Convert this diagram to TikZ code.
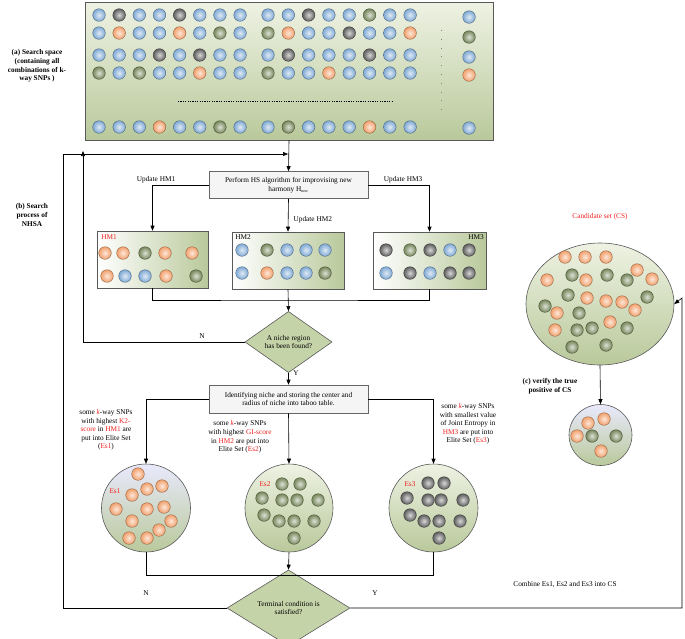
\documentclass[tikz,border=0pt]{standalone}
\usepackage{fontspec}
\setmainfont{Liberation Serif}
\usetikzlibrary{shapes.geometric,arrows.meta}
\definecolor{cb}{HTML}{7FA9D4}
\definecolor{co}{HTML}{F2A06C}
\definecolor{cg}{HTML}{75865A}
\definecolor{ck}{HTML}{5E5E5E}
\definecolor{gl}{HTML}{EEF2E3}
\definecolor{gd}{HTML}{B9C99B}
\definecolor{dia}{HTML}{C5D3A9}
\definecolor{txtred}{HTML}{F02020}
\newcommand\snp[3]{\shadedraw[inner color=#1!25!white,outer color=#1,draw=#1!60!black,line width=0.4pt] (#2,#3) circle (6.3);}
\begin{document}
\begin{tikzpicture}[x=1pt,y=-1pt,
  line width=0.6pt,
  arr/.style={-{Triangle[length=5pt,width=4pt]}},
  txt/.style={font=\fontsize{7.3}{8.6}\selectfont,align=center},
  btxt/.style={font=\fontsize{7.3}{8.6}\selectfont\bfseries,align=center},
  box/.style={draw=gray!80!black,fill=gray!8,txt,inner sep=1pt},
  hm/.style={draw=gray!70!black,left color=white,right color=gd,minimum height=57,minimum width=111},
  dmd/.style={diamond,draw=gray!70!black,fill=dia,txt,inner sep=0pt},
  set/.style={draw=gray!70!black,top color=gl,bottom color=gd,ellipse,inner sep=0pt}]
\useasboundingbox (0,0) rectangle (685,638);
% search space
\node[draw=gray!70!black,top color=gl,bottom color=gd,minimum width=408,minimum height=138,inner sep=0pt] (ss) at (289,71) {};
\node[btxt] (la) at (37,66) {(a) Search space\\(containing all\\combinations of k-\\way SNPs )};
\newcommand\srow[2]{%
 \foreach \c [count=\i] in {#2}{%
  \pgfmathsetmacro\xx{\i<9 ? 99+20.15*(\i-1) : 268+20.3*(\i-9)}%
  \snp{\c}{\xx}{#1}}}
\srow{15}{cb,ck,cb,cb,ck,cb,cb,cb,cb,cb,ck,cb,cb,cg,cb,cb}
\srow{33}{cb,co,cb,cb,co,cb,cg,cb,cg,co,cb,cb,ck,cb,cb,co}
\srow{55}{cb,cb,cb,ck,cb,ck,cb,cb,cb,ck,cb,cb,cb,ck,cb,cb}
\srow{73}{cg,cb,cg,cb,cb,co,cb,cb,cg,cb,cb,co,cb,cb,cb,cb}
\srow{127}{cb,cb,cb,co,cb,cb,cg,cb,cb,cg,cb,cb,cb,co,cb,cb}
\snp{cb}{469}{17}\snp{cg}{469}{37}\snp{cb}{469}{57}\snp{co}{469}{75}\snp{cb}{469}{128}
\draw[line width=0.9pt,dash pattern=on 1.2pt off 1.2pt] (178,101) -- (393,101);
\draw[line width=0.6pt,dash pattern=on 0.8pt off 8pt,gray] (441,30) -- (441,113);
% HS box
\node[box,minimum width=159,minimum height=27] (hs) at (288.5,185) {Perform HS algorithm for improvising new\\harmony H\textsubscript{\fontsize{4}{4}\selectfont new}};
\node[btxt] (lb) at (32,215) {(b) Search\\process of\\NHSA};
\coordinate (loopR) at (63,154);
\coordinate (loopT) at (288,154);
\draw[arr] (ss.south) -- (hs.north);
% HM boxes
\node[hm] (hm1) at (152.5,259.5) {};
\node[hm,minimum width=112] (hm2) at (288,260.5) {};
\node[hm,minimum width=113] (hm3) at (429.5,260.5) {};
\node[txt,text=txtred,anchor=north west,inner sep=0pt] (l1) at (101,234) {HM1};
\node[txt,anchor=north west,inner sep=0pt] (l2) at (235,234) {HM2};
\node[txt,anchor=north east,inner sep=0pt] (l3) at (484,234) {HM3};
\draw[arr] (hs.west) -| (hm1.north);
\draw[arr] (hs.east) -| (hm3.north);
\draw[arr] (hs.south) -- (hm2.north);
\node[txt] (u1) at (156,180) {Update HM1};
\node[txt] (u3) at (403,180) {Update HM3};
\node[txt,anchor=west] (u2) at (290,220) {Update HM2};
\foreach \c/\x in {co/105,co/123,cg/145,co/165,co/192} {\snp{\c}{\x}{253}}
\foreach \c/\x in {co/107,cb/125,cb/145,co/166,cg/196} {\snp{\c}{\x}{276}}
\foreach \c/\x in {cb/242,cg/267,cb/287,cb/306,cb/325} {\snp{\c}{\x}{250}}
\foreach \c/\x in {cb/242,co/267,cb/287,cb/306,cg/325} {\snp{\c}{\x}{273}}
\foreach \c/\x in {ck/386,cg/410,ck/430,cb/450,ck/469} {\snp{\c}{\x}{250}}
\foreach \c/\x in {cb/386,ck/410,cb/430,ck/450,ck/469} {\snp{\c}{\x}{273}}
% niche diamond
\node[dmd,minimum width=87,minimum height=51] (nd) at (288.5,342) {A niche region\\has been found?};
\coordinate (hmj) at (288,300);
\draw (hm1.south) |- (hmj) -| (hm3.south);
\draw[arr] (hm2.south) -- (nd.north);
\coordinate (nl) at (83,342);
\coordinate (nt) at (83,154);
\draw[arr] (nd.west) -- (nl) -- ([yshift=3pt]nt);
\node[txt] (nN) at (202,336) {N};
\node[txt] (nY) at (296,373) {Y};
% identify box
\node[box,minimum width=159,minimum height=28] (id) at (288.5,399) {Identifying niche and storing the center and\\radius of niche into taboo table.};
\draw[arr] (nd.south) -- (id.north);
% elite sets
\node[set,top color=gray!25!blue!10,minimum width=89,minimum height=88] (es1) at (146,508) {};
\node[set,minimum width=88,minimum height=88] (es2) at (289,508) {};
\node[set,minimum width=89,minimum height=88] (es3) at (433.5,508) {};
\draw[arr] (id.west) -| (es1.north);
\draw[arr] (id.east) -| (es3.north);
\draw[arr] (id.south) -- (es2.north);
\node[txt] (t1) at (106,430) {some \textcolor{txtred}{\itshape k}-way SNPs\\with highest \textcolor{txtred}{K2-}\\\textcolor{txtred}{score} in \textcolor{txtred}{HM1} are\\put into Elite Set\\(\textcolor{txtred}{Es1})};
\node[txt] (t2) at (240,437) {some \textcolor{txtred}{\itshape k}-way SNPs\\with highest \textcolor{txtred}{GI-score}\\in \textcolor{txtred}{HM2} are put into\\Elite Set (\textcolor{txtred}{Es2})};
\node[txt] (t3) at (468,424) {some \textcolor{txtred}{\itshape k}-way SNPs\\with smallest value\\of Joint Entropy in\\\textcolor{txtred}{HM3} are put into\\Elite Set (\textcolor{txtred}{Es3})};
\node[txt,text=txtred] (e1) at (115,491) {Es1};
\node[txt,text=txtred] (e2) at (265,484) {Es2};
\node[txt,text=txtred] (e3) at (410,484) {Es3};
\foreach \x/\y in {138/474,162/486,147/489,132/495,116/509,147/509,164/507,132/521,171/521,159/530,129/538,147/538} {\snp{co}{\x}{\y}}
\foreach \x/\y in {282/484,300/484,262/498,282/500,297/500,318/500,264/515,279/521,294/521,314/521,294/538} {\snp{cg}{\x}{\y}}
\foreach \x/\y in {428/483,444/483,407/498,428/500,441/500,463/500,410/515,424/521,439/521,460/521,439/538} {\snp{ck}{\x}{\y}}
% terminal diamond
\node[dmd,minimum width=123,minimum height=44] (td) at (288.5,608) {Terminal condition is\\satisfied?};
\coordinate (ej) at (288,575);
\draw (es1.south) |- (ej) -| (es3.south);
\draw[arr] (es2.south) -- (td.north);
\node[txt] (tN) at (146,593) {N};
\node[txt] (tY) at (375,593) {Y};
\coordinate (bl) at (63,608);
\draw[arr] (td.west) -- (bl) -- (loopR) -- (loopT);
% candidate set
\node[txt,text=txtred] (csl) at (600,217) {Candidate set (CS)};
\node[set,minimum width=148,minimum height=122] (cs) at (600,304) {};
\foreach \c/\x/\y in {co/565/257,co/585/257,co/606/257,co/547/280,cg/572/275,co/586/280,cg/607/275,cg/627/280,co/637/270,co/652/279,cg/568/295,co/587/298,co/606/301,co/622/302,co/635/310,cg/647/297,cg/545/306,co/557/313,cg/579/313,co/555/330,cg/577/330,cg/592/328,co/610/322,cg/627/328,cg/572/347,cg/606/345} {\snp{\c}{\x}{\y}}
\coordinate (rb) at (682,608);
\coordinate (rt) at (682,298);
\draw[arr] (td.east) -- (rb) -- (rt) -- (cs.east);
\node[txt] (cmb) at (565,585) {Combine Es1, Es2 and Es3 into CS};
\node[btxt] (lc) at (550,386) {(c) verify the true\\positive of CS};
\node[set,top color=gray!25!blue!10,minimum width=63,minimum height=61] (tp) at (600.5,435) {};
\draw[arr] (cs.south) -- (tp.north);
\foreach \c/\x/\y in {co/588/423,co/604/419,co/577/436,cg/592/436,cg/616/436,co/601/451} {\snp{\c}{\x}{\y}}
\end{tikzpicture}
\end{document}
